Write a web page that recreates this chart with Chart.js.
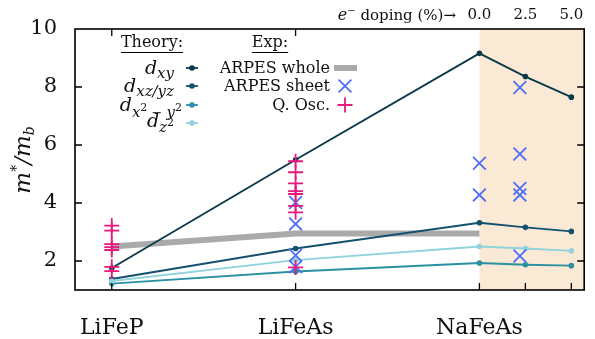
<!DOCTYPE html>
<html>
<head>
<meta charset="utf-8">
<script src="https://cdn.jsdelivr.net/npm/chart.js@4.4.1/dist/chart.umd.min.js"></script>
<style>
  html, body { margin: 0; padding: 0; background: #fff; }
  #wrap { width: 595px; height: 339px; position: relative; }
</style>
</head>
<body>
<div id="wrap"><canvas id="chart"></canvas></div>
<script>
// categories
const compounds = ['LiFeP', 'LiFeAs', 'NaFeAs'];
const dopingPct = [0.0, 2.5, 5.0];
const yTicks = [2, 4, 6, 8, 10];

// theory: LiFeP, LiFeAs, NaFeAs (0.0 %), 2.5 %, 5.0 %
const dxy = [1.76, 5.49, 9.16, 8.36, 7.65];
const dxzyz = [1.38, 2.43, 3.32, 3.16, 3.02];
const dx2y2 = [1.22, 1.64, 1.93, 1.87, 1.84];
const dz2 = [1.31, 2.03, 2.50, 2.43, 2.35];

// experiment
const arpesWhole = [2.50, 2.95, 2.95]; // LiFeP, LiFeAs, NaFeAs
const sheetLiFeAs = [4.02, 3.28, 2.20, 1.80];
const sheetNaFeAs = [5.37, 4.28];
const sheetDopedPct = 2.2;
const sheetDoped = [7.98, 5.69, 4.50, 4.28, 2.17];
const qoscLiFeP = [3.22, 3.05, 2.58, 2.48, 2.38, 1.80, 1.65];
const qoscLiFeAs = [5.44, 5.06, 4.68, 4.41, 4.31, 3.90, 3.68, 1.78];

const X_MIN = -0.2;
const X_MAX = 2.57;
const SERIF = '"DejaVu Serif", serif';

const colors = {
  dxy: '#0b3a48',
  dxzyz: '#14506f',
  dx2y2: '#2a90a2',
  dz2: '#8fd3dc',
  whole: '#aaaaaa',
  sheet: '#4d6ef5',
  qosc: '#e8197d',
  shade: '#fae9d5',
};

// doping axis: 10 % per compound spacing, starting at NaFeAs
const naIdx = compounds.indexOf('NaFeAs');
function dopingToX(p) {
  return naIdx + p / 10;
}

const theoryX = [0, 1, ...dopingPct.map(dopingToX)];

function theorySet(label, values, color) {
  return {
    label,
    data: values.map((v, i) => ({ x: theoryX[i], y: v })),
    showLine: true,
    borderColor: color,
    backgroundColor: color,
    borderWidth: 1.9,
    pointRadius: 2.8,
    pointBorderWidth: 0,
    pointBackgroundColor: color,
    order: 2,
  };
}

function column(x, values) {
  return values.map((v) => ({ x, y: v }));
}

const datasets = [
  {
    label: 'Q. Osc.',
    data: [...column(0, qoscLiFeP), ...column(1, qoscLiFeAs)],
    pointStyle: 'cross',
    pointRadius: 7.5,
    borderColor: colors.qosc,
    pointBorderWidth: 1.8,
    order: 0,
  },
  {
    label: 'ARPES sheet',
    data: [
      ...column(1, sheetLiFeAs),
      ...column(dopingToX(0), sheetNaFeAs),
      ...column(dopingToX(sheetDopedPct), sheetDoped),
    ],
    pointStyle: 'crossRot',
    pointRadius: 9,
    borderColor: colors.sheet,
    pointBorderWidth: 1.8,
    order: 1,
  },
  theorySet('dz2', dz2, colors.dz2),
  theorySet('dx2y2', dx2y2, colors.dx2y2),
  theorySet('dxzyz', dxzyz, colors.dxzyz),
  theorySet('dxy', dxy, colors.dxy),
  {
    label: 'ARPES whole',
    data: arpesWhole.map((v, i) => ({ x: i, y: v })),
    showLine: true,
    borderColor: colors.whole,
    borderWidth: 6,
    borderCapStyle: 'butt',
    pointRadius: 0,
    order: 3,
  },
];

// draw a run of text pieces: [text, size, dy, italic]
function drawRuns(ctx, runs, x, y, align) {
  const fontOf = (r) => `${r[3] ? 'italic ' : ''}${r[1]}px ${SERIF}`;
  let w = 0;
  runs.forEach((r) => {
    ctx.font = fontOf(r);
    w += ctx.measureText(r[0]).width;
  });
  let cx = x;
  if (align === 'right') cx = x - w;
  if (align === 'center') cx = x - w / 2;
  runs.forEach((r) => {
    ctx.font = fontOf(r);
    ctx.fillText(r[0], cx, y + r[2]);
    cx += ctx.measureText(r[0]).width;
  });
}

const decor = {
  id: 'decor',
  beforeDatasetsDraw(chart) {
    const { ctx, chartArea: a, scales } = chart;
    const x0 = scales.x.getPixelForValue(dopingToX(0));
    ctx.save();
    ctx.fillStyle = colors.shade;
    ctx.fillRect(x0, a.top, a.right - x0, a.bottom - a.top);
    ctx.restore();
  },
  afterDraw(chart) {
    const { ctx, chartArea: a, scales } = chart;
    ctx.save();

    // frame + inward ticks
    ctx.strokeStyle = '#000';
    ctx.lineWidth = 1.6;
    ctx.strokeRect(a.left, a.top, a.right - a.left, a.bottom - a.top);
    ctx.lineWidth = 1.3;
    const tl = 7;
    ctx.beginPath();
    yTicks.filter((v) => v < 10).forEach((v) => {
      const py = scales.y.getPixelForValue(v);
      ctx.moveTo(a.left, py); ctx.lineTo(a.left + tl, py);
      ctx.moveTo(a.right, py); ctx.lineTo(a.right - tl, py);
    });
    const bottomTicks = [0, 1, ...dopingPct.map(dopingToX)];
    bottomTicks.forEach((v) => {
      const px = scales.x.getPixelForValue(v);
      ctx.moveTo(px, a.bottom); ctx.lineTo(px, a.bottom - tl);
    });
    [0, 1].forEach((v) => {
      const px = scales.x.getPixelForValue(v);
      ctx.moveTo(px, a.top); ctx.lineTo(px, a.top + tl);
    });
    ctx.stroke();

    ctx.fillStyle = '#111';
    ctx.textBaseline = 'alphabetic';

    // top doping label
    drawRuns(ctx, [
      ['e', 16, 0, true],
      ['\u2212', 10, -6, false],
      [' doping (%)', 15, 0, false],
      ['\u2192', 15, 0, false],
    ], 456, 20, 'right');

    // y-axis title
    ctx.save();
    ctx.translate(30, 160);
    ctx.rotate(-Math.PI / 2);
    drawRuns(ctx, [
      ['m', 23, 0, true],
      ['*', 14, -9, false],
      ['/', 23, 0, true],
      ['m', 23, 0, true],
      ['b', 14, 4, true],
    ], 0, 0, 'center');
    ctx.restore();

    // legend headers
    ctx.font = `16px ${SERIF}`;
    ctx.textAlign = 'left';
    const headers = [['Theory:', 152], ['Exp:', 270]];
    ctx.lineWidth = 1;
    headers.forEach(([t, cx]) => {
      const w = ctx.measureText(t).width;
      ctx.fillText(t, cx - w / 2, 47);
      ctx.beginPath();
      ctx.moveTo(cx - w / 2, 52.5);
      ctx.lineTo(cx + w / 2, 52.5);
      ctx.stroke();
    });

    // theory legend
    const rows = [68, 86, 105, 123];
    const theoryLabels = [
      [[['d', 19, 6, true], ['xy', 15, 10, true]], 174, colors.dxy],
      [[['d', 19, 6, true], ['xz/yz', 15, 10, true]], 174, colors.dxzyz],
      [[['d', 19, 6, true], ['x', 15, 12, true], ['2', 11, 6, false], [' \u2212 ', 13, 12, false], ['y', 15, 12, true], ['2', 11, 6, false]], 182, colors.dx2y2],
      [[['d', 19, 4, true], ['z', 15, 9, true], ['2', 11, 3, false]], 174, colors.dz2],
    ];
    theoryLabels.forEach(([runs, rx, col], i) => {
      ctx.fillStyle = '#111';
      drawRuns(ctx, runs, rx, rows[i], 'right');
      ctx.strokeStyle = col;
      ctx.fillStyle = col;
      ctx.lineWidth = 1.8;
      ctx.beginPath();
      ctx.moveTo(186, rows[i]); ctx.lineTo(198, rows[i]);
      ctx.stroke();
      ctx.beginPath();
      ctx.arc(192, rows[i], 2.8, 0, Math.PI * 2);
      ctx.fill();
    });

    // experiment legend
    ctx.fillStyle = '#111';
    ctx.font = `16px ${SERIF}`;
    ctx.textAlign = 'right';
    ['ARPES whole', 'ARPES sheet', 'Q. Osc.'].forEach((t, i) => {
      ctx.fillText(t, 330, rows[i] + 5);
    });
    ctx.strokeStyle = colors.whole;
    ctx.lineWidth = 6;
    ctx.beginPath();
    ctx.moveTo(334, rows[0]); ctx.lineTo(357, rows[0]);
    ctx.stroke();
    ctx.strokeStyle = colors.sheet;
    ctx.lineWidth = 1.8;
    ctx.beginPath();
    ctx.moveTo(345 - 6.4, rows[1] - 6.4); ctx.lineTo(345 + 6.4, rows[1] + 6.4);
    ctx.moveTo(345 - 6.4, rows[1] + 6.4); ctx.lineTo(345 + 6.4, rows[1] - 6.4);
    ctx.stroke();
    ctx.strokeStyle = colors.qosc;
    ctx.beginPath();
    ctx.moveTo(345 - 7.5, rows[2]); ctx.lineTo(345 + 7.5, rows[2]);
    ctx.moveTo(345, rows[2] - 7.5); ctx.lineTo(345, rows[2] + 7.5);
    ctx.stroke();

    ctx.restore();
  },
};

const hidden = { display: false, drawTicks: false };

function noPad(scale) {
  scale.paddingLeft = 0;
  scale.paddingRight = 0;
  scale.paddingTop = 0;
  scale.paddingBottom = 0;
}

new Chart(document.getElementById('chart'), {
  type: 'scatter',
  data: { datasets },
  plugins: [decor],
  options: {
    responsive: true,
    maintainAspectRatio: false,
    animation: false,
    devicePixelRatio: 1,
    layout: { padding: { left: 0, right: 6, top: 0, bottom: 0 } },
    plugins: {
      legend: { display: false },
      tooltip: { enabled: false },
    },
    scales: {
      x: {
        type: 'linear',
        position: 'bottom',
        min: X_MIN,
        max: X_MAX,
        grid: hidden,
        border: { display: false },
        afterBuildTicks(scale) {
          scale.ticks = compounds.map((_, i) => ({ value: i }));
        },
        afterFit(scale) { scale.height = 49; noPad(scale); },
        ticks: {
          color: '#111',
          padding: 25,
          maxRotation: 0,
          font: { family: SERIF, size: 22 },
          callback(v) { return compounds[v]; },
        },
      },
      x2: {
        type: 'linear',
        position: 'top',
        min: (X_MIN - naIdx) * 10,
        max: (X_MAX - naIdx) * 10,
        grid: hidden,
        border: { display: false },
        afterBuildTicks(scale) {
          scale.ticks = dopingPct.map((v) => ({ value: v }));
        },
        afterFit(scale) { scale.height = 29; noPad(scale); },
        ticks: {
          color: '#111',
          padding: 5,
          maxRotation: 0,
          font: { family: SERIF, size: 15 },
          callback(v) { return Number(v).toFixed(1); },
        },
      },
      y: {
        type: 'linear',
        min: 1,
        max: 10,
        grid: hidden,
        border: { display: false },
        afterBuildTicks(scale) {
          scale.ticks = yTicks.map((v) => ({ value: v }));
        },
        afterFit(scale) { scale.width = 75; noPad(scale); },
        ticks: {
          color: '#111',
          padding: 18,
          font: { family: SERIF, size: 21 },
        },
      },
    },
  },
});
</script>
</body>
</html>
